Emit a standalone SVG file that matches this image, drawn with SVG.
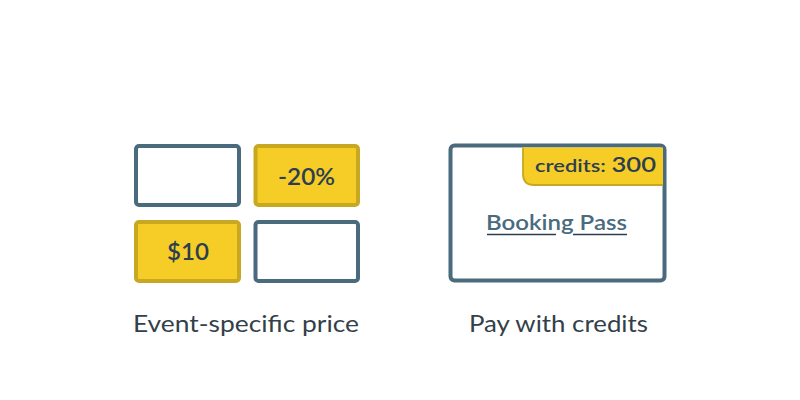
<svg xmlns="http://www.w3.org/2000/svg" width="800" height="400" viewBox="0 0 800 400">
<style>
.box{fill:#ffffff;stroke:#4a6a7d;stroke-width:4}
.ybox{fill:#f6cd27;stroke:#c9a821;stroke-width:4}
.t{font-family:Lato,"Open Sans","Liberation Sans",sans-serif;fill:#2c3e50;text-anchor:middle}
.m{font-weight:600}
.lbl{font-size:23px;fill:#333f4a}
</style>
<rect width="800" height="400" fill="#ffffff"/>
<g id="price-grid">
<g id="box-empty-1"><rect class="box" x="136" y="146" width="103" height="59" rx="3"/></g>
<g id="box-discount"><rect class="ybox" x="255.5" y="146" width="102.5" height="59" rx="3"/><text class="t m" x="306.5" y="184.5" font-size="22" textLength="57" lengthAdjust="spacingAndGlyphs">-20%</text></g>
<g id="box-price"><rect class="ybox" x="136" y="222" width="103" height="59" rx="3"/><text class="t m" x="188" y="260" font-size="22" textLength="42" lengthAdjust="spacingAndGlyphs">$10</text></g>
<g id="box-empty-2"><rect class="box" x="255.5" y="222" width="102.5" height="59" rx="3"/></g>
<text class="t lbl" x="246" y="332" textLength="226" lengthAdjust="spacingAndGlyphs">Event-specific price</text>
</g>
<g id="booking-pass">
<rect class="box" x="450.5" y="145.5" width="214" height="135" rx="4"/>
<path d="M523 147.5 V174 Q523 185 534 185 H663 V147.5 Z" fill="#f6cd27" stroke="none"/>
<path d="M523 147.5 V174 Q523 185 534 185 H663" fill="none" stroke="#c9a821" stroke-width="1.8"/>
<text class="t m" x="595.5" y="172" textLength="121" lengthAdjust="spacingAndGlyphs"><tspan font-size="18">credits: </tspan><tspan font-size="21">300</tspan></text>
<text class="t m" x="556.5" y="230" font-size="21" style="fill:#4a6a7d" textLength="141" lengthAdjust="spacingAndGlyphs">Booking Pass</text>
<path d="M487 234.5 H556 M573 234.5 H627" stroke="#2c3e50" stroke-width="1.3"/>
<text class="t lbl" x="558.5" y="332" textLength="179" lengthAdjust="spacingAndGlyphs">Pay with credits</text>
</g>
</svg>
